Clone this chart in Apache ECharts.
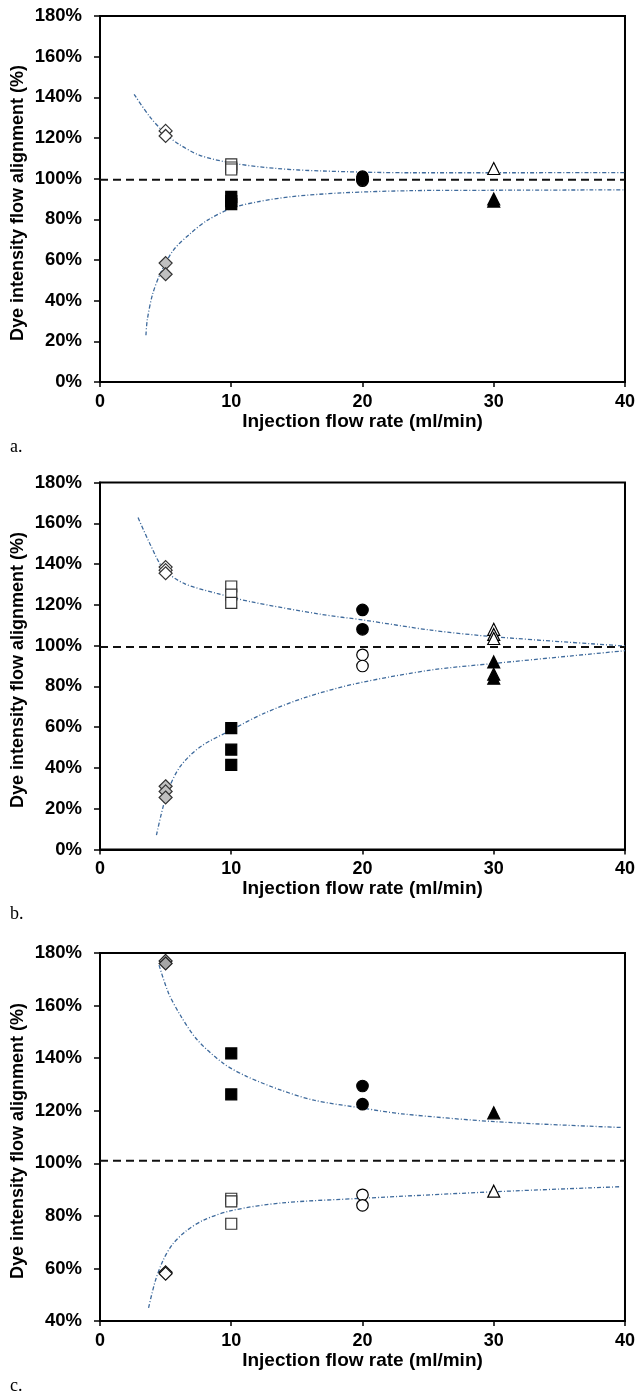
<!DOCTYPE html>
<html>
<head>
<meta charset="utf-8">
<script src="https://cdn.jsdelivr.net/npm/echarts@6/dist/echarts.min.js"></script>
<style>
  html, body { margin: 0; padding: 0; background: #fff; }
  #main { width: 638px; height: 1398px; }
</style>
</head>
<body>
<div id="main"></div>
<script>
// panel a
var aOpenDiamond = [[5, 123.5], [5, 121]];
var aGrayDiamond = [[5, 58.5], [5, 53]];
var aOpenSquare = [[10, 107], [10, 105.5], [10, 104.5]];
var aFilledSquare = [[10, 91], [10, 89], [10, 87.5]];
var aOpenCircle = [[20, 100], [20, 99]];
var aFilledCircle = [[20, 101], [20, 99.5]];
var aOpenTriangle = [[30, 105]];
var aFilledTriangle = [[30, 90], [30, 89]];
var aUpperFit = [[2.6, 141.5], [3.8, 130.4], [5, 122], [6, 117], [7.6, 111.5], [10.2, 107.5],
                 [13.5, 105], [16.8, 103.8], [23.7, 102.9], [30, 102.9], [40, 103]];
var aLowerFit = [[3.5, 23], [3.6, 30.5], [4.0, 43], [4.6, 53.4], [5.6, 64.9], [6.9, 73.1], [8.2, 79.6],
                 [10, 85.4], [12, 88.6], [14.5, 91.1], [18.4, 93], [23.7, 94.1], [30, 94.3], [40, 94.5]];
var aReference = [[0, 99.5], [40, 99.5]];

// panel b
var bOpenDiamond = [[5, 138.5], [5, 137], [5, 135.5]];
var bGrayDiamond = [[5, 31], [5, 28.5], [5, 25.5]];
var bOpenSquare = [[10, 129], [10, 125], [10, 121]];
var bFilledSquare = [[10, 59.5], [10, 49], [10, 41.5]];
var bFilledCircle = [[20, 117.5], [20, 108]];
var bOpenCircle = [[20, 95.5], [20, 90]];
var bOpenTriangle = [[30, 108], [30, 105.5], [30, 103.5]];
var bFilledTriangle = [[30, 92], [30, 86], [30, 84]];
var bUpperFit = [[2.9, 162.8], [3.8, 150], [4.85, 137.5], [6.4, 130.5], [8.9, 125.6], [11.5, 121.5],
                 [16.8, 115.4], [20.1, 112.5], [25.2, 107.6], [30.1, 104.3], [40, 99.8]];
var bLowerFit = [[4.3, 7], [5.1, 27.5], [6.1, 40.6], [7.65, 50.4], [10, 58.6], [12.5, 66.8],
                 [15.8, 74.9], [19.6, 81.5], [25.2, 88], [30.1, 91.3], [40, 97.5]];
var bReference = [[0, 99.3], [40, 99.3]];

// panel c
var cGrayDiamond = [[5, 177], [5, 176]];
var cFilledSquare = [[10, 141.8], [10, 126.2]];
var cFilledCircle = [[20, 129.4], [20, 122.5]];
var cFilledTriangle = [[30, 119.2]];
var cOpenDiamond = [[5, 58.5], [5, 58]];
var cOpenSquare = [[10, 86.5], [10, 85.5], [10, 77]];
var cOpenCircle = [[20, 88], [20, 84]];
var cOpenTriangle = [[30, 89.4]];
var cUpperFit = [[4.5, 175.4], [5.2, 165], [6.1, 156.5], [7.4, 147], [9.4, 138], [11.2, 133],
                 [13.8, 127.8], [16.3, 124], [20.1, 120.9], [23, 118.8], [30.2, 115.8], [39.8, 113.6]];
var cLowerFit = [[3.7, 45], [4.2, 55], [4.8, 63], [5.5, 69], [6.5, 74], [7.9, 78.4], [10, 82],
                 [13.8, 84.9], [20.1, 86.7], [30.2, 89.2], [39.7, 91.1]];
var cReference = [[0, 101], [40, 101]];

var yRanges = [[0, 180], [0, 180], [40, 180]];
var panelLetters = ['a.', 'b.', 'c.'];

var chart = echarts.init(document.getElementById('main'));

var FONT = '"Liberation Sans", Arial, sans-serif';
var gridTops = [16, 482.5, 953];
var gridHeights = [366, 367, 368];

function marker(data, idx, symbol, size, fill, stroke) {
    return {
        type: 'scatter', xAxisIndex: idx, yAxisIndex: idx,
        data: data, symbol: symbol, symbolSize: size,
        itemStyle: { color: fill, borderColor: stroke, borderWidth: 1.2, opacity: 1 },
        z: 5, silent: true
    };
}
function fit(data, idx) {
    return {
        type: 'line', xAxisIndex: idx, yAxisIndex: idx, data: data,
        smooth: 0.3, showSymbol: false, symbol: 'none',
        lineStyle: { color: '#3e6a9c', width: 1.3, type: [4, 2, 1, 2] },
        z: 3, silent: true
    };
}
function refLine(data, idx) {
    return {
        type: 'line', xAxisIndex: idx, yAxisIndex: idx, data: data,
        showSymbol: false, symbol: 'none',
        lineStyle: { color: '#111', width: 2, type: [8, 5] },
        z: 4, silent: true
    };
}

var grids = [], xAxes = [], yAxes = [], graphics = [];
for (var i = 0; i < 3; i++) {
    grids.push({
        left: 100, right: 13, top: gridTops[i], height: gridHeights[i],
        show: true, borderColor: '#000', borderWidth: 2, backgroundColor: 'transparent'
    });
    xAxes.push({
        type: 'value', gridIndex: i, min: 0, max: 40, interval: 10,
        name: 'Injection flow rate (ml/min)', nameLocation: 'middle', nameGap: 29,
        nameTextStyle: { fontFamily: FONT, fontWeight: 'bold', fontSize: 19, color: '#000' },
        axisLine: { lineStyle: { color: '#000', width: 2 } },
        axisTick: { show: true, inside: false, length: 5, lineStyle: { color: '#000', width: 1.5 } },
        axisLabel: { margin: 11, fontFamily: FONT, fontWeight: 'bold', fontSize: 18, color: '#000' },
        splitLine: { show: false }
    });
    yAxes.push({
        type: 'value', gridIndex: i, min: yRanges[i][0], max: yRanges[i][1], interval: 20,
        axisLine: { show: true, lineStyle: { color: '#000', width: 2 } },
        axisTick: { show: true, inside: false, length: 6, lineStyle: { color: '#000', width: 1.5 } },
        axisLabel: { margin: 18, formatter: '{value}%', fontFamily: FONT, fontWeight: 'bold', fontSize: 18.5, color: '#000' },
        splitLine: { show: false }
    });
    graphics.push({
        type: 'text', x: 18, y: gridTops[i] + gridHeights[i] / 2 + 4, rotation: Math.PI / 2,
        style: {
            text: 'Dye intensity flow alignment (%)', fontFamily: FONT, fontWeight: 'bold',
            fontSize: 18, fill: '#000', align: 'center', verticalAlign: 'middle'
        }
    });
    graphics.push({
        type: 'text', x: 10, y: gridTops[i] + gridHeights[i] + 65,
        style: {
            text: panelLetters[i], fontFamily: '"Liberation Serif", "Times New Roman", serif',
            fontSize: 18, fill: '#000', align: 'left', verticalAlign: 'middle'
        }
    });
}

var WHITE = '#ffffff', BLACK = '#000000', GRAY = '#c0c0c0', EDGE = '#333333';
var series = [
    // a
    fit(aUpperFit, 0), fit(aLowerFit, 0), refLine(aReference, 0),
    marker(aOpenDiamond, 0, 'diamond', 13, WHITE, EDGE),
    marker(aGrayDiamond, 0, 'diamond', 13, GRAY, EDGE),
    marker(aOpenSquare, 0, 'rect', 11, WHITE, EDGE),
    marker(aFilledSquare, 0, 'rect', 11, BLACK, BLACK),
    marker(aOpenCircle, 0, 'circle', 11.5, WHITE, BLACK),
    marker(aFilledCircle, 0, 'circle', 11.5, BLACK, BLACK),
    marker(aOpenTriangle, 0, 'triangle', 12, WHITE, BLACK),
    marker(aFilledTriangle, 0, 'triangle', 12, BLACK, BLACK),
    // b
    fit(bUpperFit, 1), fit(bLowerFit, 1), refLine(bReference, 1),
    marker(bOpenDiamond, 1, 'diamond', 13, WHITE, EDGE),
    marker(bGrayDiamond, 1, 'diamond', 13, GRAY, EDGE),
    marker(bOpenSquare, 1, 'rect', 11, WHITE, EDGE),
    marker(bFilledSquare, 1, 'rect', 11, BLACK, BLACK),
    marker(bOpenCircle, 1, 'circle', 11.5, WHITE, BLACK),
    marker(bFilledCircle, 1, 'circle', 11.5, BLACK, BLACK),
    marker(bOpenTriangle, 1, 'triangle', 12, WHITE, BLACK),
    marker(bFilledTriangle, 1, 'triangle', 12, BLACK, BLACK),
    // c
    fit(cUpperFit, 2), fit(cLowerFit, 2), refLine(cReference, 2),
    marker(cGrayDiamond, 2, 'diamond', 13, '#a6a6a6', '#222'),
    marker(cFilledSquare, 2, 'rect', 11, BLACK, BLACK),
    marker(cFilledCircle, 2, 'circle', 11.5, BLACK, BLACK),
    marker(cFilledTriangle, 2, 'triangle', 12, BLACK, BLACK),
    marker(cOpenDiamond, 2, 'diamond', 13, WHITE, '#111'),
    marker(cOpenSquare, 2, 'rect', 11, WHITE, EDGE),
    marker(cOpenCircle, 2, 'circle', 11.5, WHITE, BLACK),
    marker(cOpenTriangle, 2, 'triangle', 12, WHITE, BLACK)
];

var option = {
    animation: false,
    backgroundColor: '#fff',
    grid: grids,
    xAxis: xAxes,
    yAxis: yAxes,
    graphic: graphics,
    series: series
};

chart.setOption(option);
</script>
</body>
</html>
